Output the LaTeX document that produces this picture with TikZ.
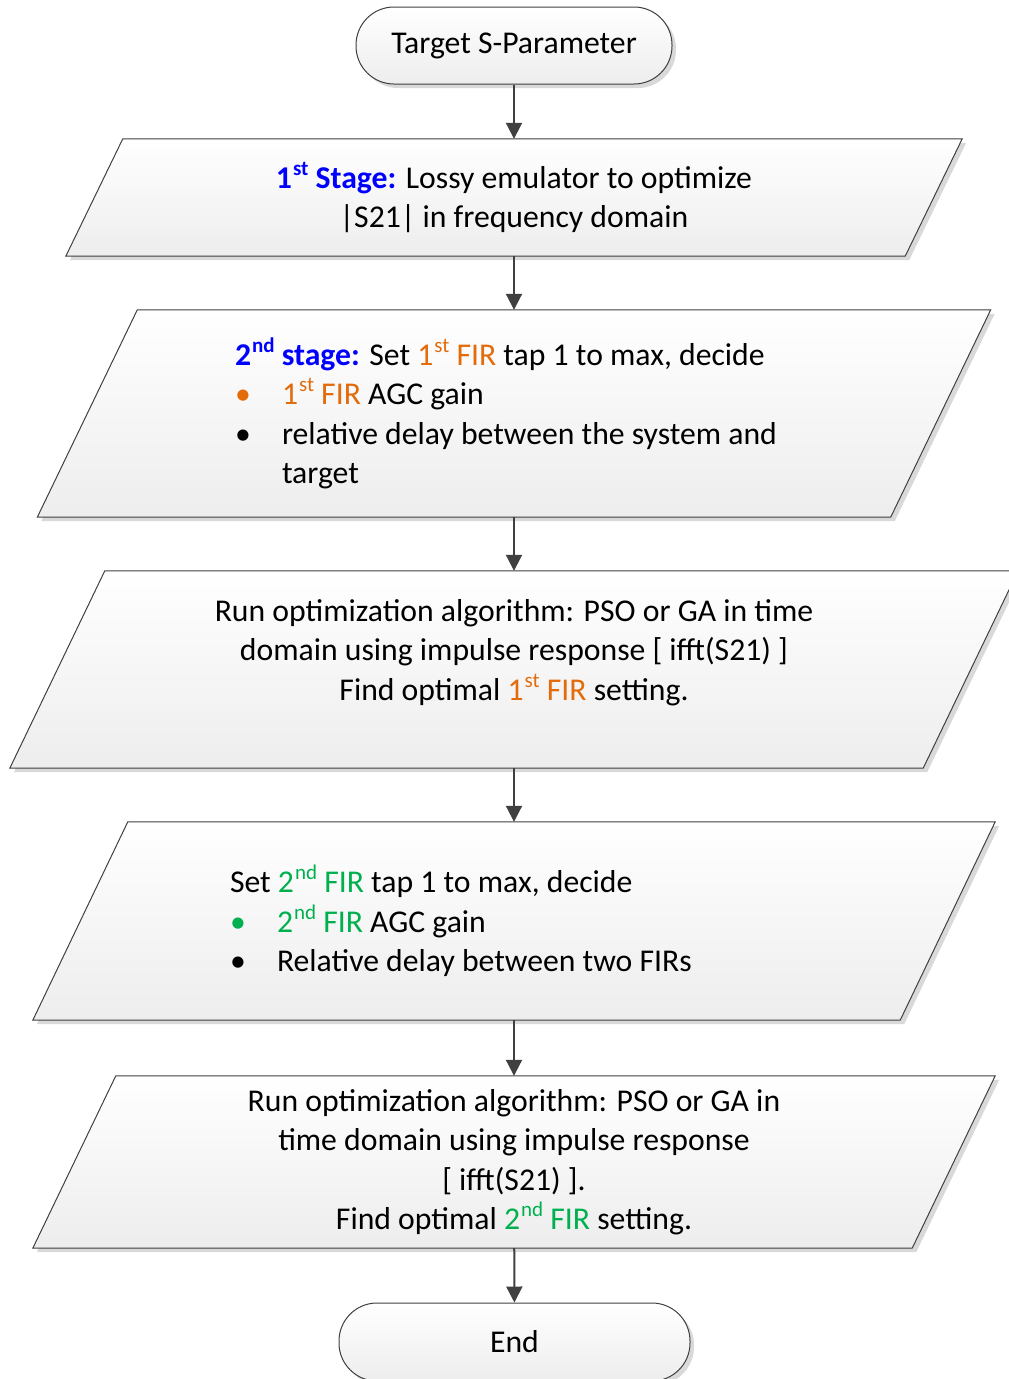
\documentclass[tikz,border=0pt]{standalone}
\usepackage{fontspec}
\setmainfont{Carlito}
\usepackage{tikz}
\usetikzlibrary{
  arrows.meta,
  backgrounds,
  shadows
}
\usepackage{xcolor}
\definecolor{stageBlue}{rgb}{0,0,1}
\definecolor{firOrange}{rgb}{0.89,0.42,0.04}
\definecolor{firGreen}{rgb}{0,0.69,0.31}
\definecolor{lineGray}{rgb}{0.25,0.25,0.25}
\definecolor{lowGray}{rgb}{0.93,0.93,0.93}
\tikzset{
  boxShade/.style={
    draw=lineGray,
    line width=1pt,
    top color=white,
    bottom color=lowGray,
    drop shadow={shadow xshift=4pt, shadow yshift=-4pt, fill=black!25, opacity=0.6}
  },
  terminal/.style={
    boxShade,
    rectangle,
    rounded corners=38pt,
    inner sep=0pt,
    minimum height=77pt
  },
  ioBox/.style={
    rectangle,
    inner sep=0pt
  }
}
\newcommand{\sups}[1]{\kern1pt\raisebox{0.41em}{\fontsize{21pt}{21pt}\selectfont #1}}
\newcommand{\firOne}{\textcolor{firOrange}{1\sups{st} FIR}}
\newcommand{\firTwo}{\textcolor{firGreen}{2\sups{nd} FIR}}
\newcommand{\bulletRow}[2]{\makebox[47pt][l]{\textcolor{#1}{\textbullet}}#2}

\begin{document}
\begin{tikzpicture}[
    x=1pt, y=-1pt,
    >={Triangle[length=16pt,width=16pt]},
    every node/.style={font=\fontsize{31.7pt}{39.5pt}\selectfont},
    flow/.style={->, draw=lineGray, line width=2pt}
  ]
  \useasboundingbox (0,0) rectangle (1009,1379);
  \clip (0,0) rectangle (1009,1379);

  \node[terminal, minimum width=316pt] (target) at (514,45.5) {Target S-Parameter};

  \node[ioBox, minimum width=839pt, minimum height=117pt, align=center] (stage1) at (514,197.5)
    {{\color{stageBlue}\bfseries 1\sups{st} Stage:} Lossy emulator to optimize\\
     |S21| in frequency domain};

  \node[ioBox, minimum width=853pt, minimum height=207pt, text width=558pt, align=flush left] (stage2) at (514,413.5)
    {{\color{stageBlue}\bfseries 2\sups{nd} stage:} Set \firOne{} tap 1 to max, decide\\
     \bulletRow{firOrange}{\firOne{} AGC gain}\\
     \bulletRow{black}{relative delay between the system and}\\
     \hspace*{47pt}target};

  \node[ioBox, minimum width=913pt, minimum height=197pt, align=center] (run1) at (514,669.5)
    {Run optimization algorithm: PSO or GA in time\\
     domain using impulse response {[} ifft(S21) {]}\\
     Find optimal \firOne{} setting.\\
     ~};

  \node[ioBox, minimum width=867pt, minimum height=198pt, text width=568pt, align=flush left] (stage3) at (514,921)
    {Set \firTwo{} tap 1 to max, decide\\
     \bulletRow{firGreen}{\firTwo{} AGC gain}\\
     \bulletRow{black}{Relative delay between two FIRs}};

  \node[ioBox, minimum width=879pt, minimum height=172pt, align=center] (run2) at (514,1162)
    {Run optimization algorithm: PSO or GA in\\
     time domain using impulse response\\
     {[} ifft(S21) {]}.\\
     Find optimal \firTwo{} setting.};

  \node[terminal, minimum width=351pt, minimum height=78pt] (finish) at (514.5,1342) {End};

  % slanted outlines behind the text
  \begin{scope}[on background layer]
    \foreach \n/\s in {stage1/28.5, stage2/50, run1/47.5, stage3/47.5, run2/41.5}{
      \path[boxShade] ([xshift=\s pt]\n.north west) -- ([xshift=\s pt]\n.north east)
        -- ([xshift=-\s pt]\n.south east) -- ([xshift=-\s pt]\n.south west) -- cycle;
    }
  \end{scope}

  \foreach \a/\b in {target/stage1, stage1/stage2, stage2/run1, run1/stage3, stage3/run2, run2/finish}{
    \draw[flow] (\a) -- (\b);
  }
\end{tikzpicture}
\end{document}
